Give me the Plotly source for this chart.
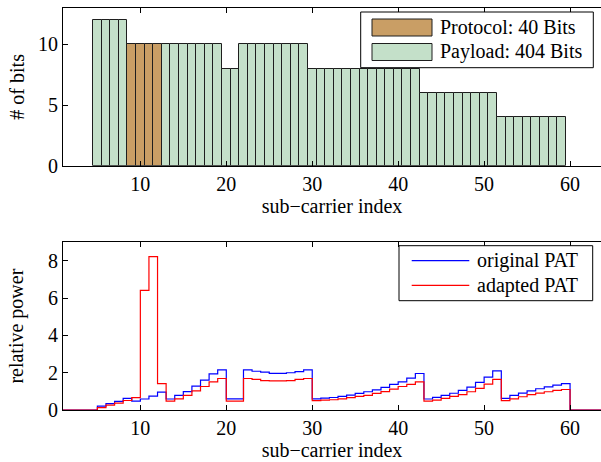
import plotly.graph_objects as go

# ---------------- data ----------------
subcarriers = list(range(5, 60))
bits = [12, 12, 12, 12, 10, 10, 10, 10, 10, 10, 10, 10, 10, 10, 10, 8, 8,
        10, 10, 10, 10, 10, 10, 10, 10, 8, 8, 8, 8, 8, 8, 8, 8, 8, 8, 8, 8, 8,
        6, 6, 6, 6, 6, 6, 6, 6, 6, 4, 4, 4, 4, 4, 4, 4, 4]
protocol_carriers = [9, 10, 11, 12]

original_pat = [0.21, 0.34, 0.46, 0.62, 0.48, 0.59, 0.75, 0.96, 0.59, 0.78,
                0.99, 1.28, 1.60, 1.94, 2.15, 0.60, 0.60, 2.15, 2.08, 2.03,
                1.97, 1.97, 2.00, 2.06, 2.15, 0.60, 0.64, 0.67, 0.73, 0.80,
                0.89, 0.98, 1.08, 1.21, 1.37, 1.51, 1.71, 1.96, 0.59, 0.68,
                0.78, 0.90, 1.05, 1.23, 1.48, 1.76, 2.10, 0.62, 0.78, 0.91,
                1.03, 1.14, 1.24, 1.33, 1.42]
adapted_pat = [0.13, 0.26, 0.37, 0.51, 0.66, 6.42, 8.23, 1.42, 0.48, 0.60,
               0.78, 1.03, 1.26, 1.51, 1.69, 0.48, 0.48, 1.69, 1.64, 1.58,
               1.56, 1.56, 1.58, 1.64, 1.69, 0.50, 0.53, 0.55, 0.60, 0.66,
               0.73, 0.78, 0.89, 0.99, 1.12, 1.26, 1.37, 1.51, 0.48, 0.53,
               0.62, 0.73, 0.83, 0.98, 1.16, 1.39, 1.64, 0.50, 0.60, 0.71,
               0.82, 0.91, 0.98, 1.05, 1.10]
lead_unused = [1, 2, 3, 4]
tail_unused = [60, 61, 62, 63, 64]

x_ticks = [10, 20, 30, 40, 50, 60]
bits_ticks = [0, 5, 10]
power_ticks = [0, 2, 4, 6, 8]

legend_bits = ["Protocol: 40 Bits", "Payload: 404 Bits"]
legend_power = ["original PAT", "adapted PAT"]

# ---------------- style ----------------
FONT = "Liberation Serif"
FS = 20
W, H = 601, 462
L, R, T, B = 63, 0, 8, 52
COL_PROTO = "rgb(201,158,101)"
COL_PAY = "rgb(196,224,201)"
EDGE = "rgb(30,30,30)"


def pxx(p):
    return (p - L) / (W - L - R)


def pxy(p):
    return (H - B - p) / (H - T - B)


proto_x = [c for c in subcarriers if c in protocol_carriers]
proto_y = [b for c, b in zip(subcarriers, bits) if c in protocol_carriers]
pay_x = [c for c in subcarriers if c not in protocol_carriers]
pay_y = [b for c, b in zip(subcarriers, bits) if c not in protocol_carriers]

stair_x = lead_unused + subcarriers + tail_unused
orig_y = [0] * len(lead_unused) + original_pat + [0] * len(tail_unused)
adap_y = [0] * len(lead_unused) + adapted_pat + [0] * len(tail_unused)

fig = go.Figure()
fig.add_trace(go.Bar(x=pay_x, y=pay_y, width=1, marker=dict(color=COL_PAY, line=dict(color=EDGE, width=1)),
                     xaxis="x", yaxis="y", showlegend=False))
fig.add_trace(go.Bar(x=proto_x, y=proto_y, width=1, marker=dict(color=COL_PROTO, line=dict(color=EDGE, width=1)),
                     xaxis="x", yaxis="y", showlegend=False))
fig.add_trace(go.Scatter(x=stair_x, y=orig_y, mode="lines", line=dict(color="#0000ff", width=1.2, shape="hv"),
                         xaxis="x2", yaxis="y2", showlegend=False))
fig.add_trace(go.Scatter(x=stair_x, y=adap_y, mode="lines", line=dict(color="#ff0000", width=1.2, shape="hv"),
                         xaxis="x2", yaxis="y2", showlegend=False))

tick_common = dict(ticks="inside", ticklen=5, tickcolor="black", tickwidth=1, showgrid=False, zeroline=False,
                   tickfont=dict(family=FONT, size=FS, color="black"))
xaxis_common = dict(tick_common, showline=True, linecolor="black", linewidth=1, mirror="ticks")
yaxis_common = dict(tick_common, showline=True, linecolor="black", linewidth=1, mirror=False)
right_common = dict(tick_common, showline=False, showticklabels=False, side="right")

top_dom = [(410 - 165.7) / 402, 1.0]
bot_dom = [0, (410 - 242.3) / 402]

fig.update_layout(
    width=W, height=H, margin=dict(l=L, r=R, t=T, b=B),
    paper_bgcolor="white", plot_bgcolor="white",
    font=dict(family=FONT, size=FS, color="black"),
    bargap=0, barmode="overlay",
    xaxis=dict(xaxis_common, range=[1, 63.6], tickvals=x_ticks, anchor="y",
               title=dict(text="sub\u2212carrier index", font=dict(family=FONT, size=FS), standoff=5)),
    yaxis=dict(yaxis_common, range=[0, 13], tickvals=bits_ticks, domain=top_dom, anchor="x",
               title=dict(text="# of bits", font=dict(family=FONT, size=FS), standoff=7)),
    yaxis3=dict(right_common, range=[0, 13], tickvals=bits_ticks, overlaying="y", anchor="x"),
    xaxis2=dict(xaxis_common, range=[1, 63.6], tickvals=x_ticks, anchor="y2",
                title=dict(text="sub\u2212carrier index", font=dict(family=FONT, size=FS), standoff=2)),
    yaxis2=dict(yaxis_common, range=[0, 9], tickvals=power_ticks, domain=bot_dom, anchor="x2",
                title=dict(text="relative power", font=dict(family=FONT, size=FS), standoff=18)),
    yaxis4=dict(right_common, range=[0, 9], tickvals=power_ticks, overlaying="y2", anchor="x2"),
)

shapes = []
annotations = []
# legend 1 (bits)
shapes.append(dict(type="rect", xref="paper", yref="paper", x0=pxx(360.7), x1=pxx(593.3), y0=pxy(67.7), y1=pxy(12),
                   fillcolor="white", line=dict(color="black", width=1)))
for i, (lab, col) in enumerate(zip(legend_bits, [COL_PROTO, COL_PAY])):
    yc = 27.5 + i * 24.5
    shapes.append(dict(type="rect", xref="paper", yref="paper", x0=pxx(372), x1=pxx(432),
                       y0=pxy(yc + 8.5), y1=pxy(yc - 8.5), fillcolor=col, line=dict(color=EDGE, width=1)))
    annotations.append(dict(text=lab, xref="paper", yref="paper", x=pxx(438), y=pxy(yc), xanchor="left",
                            yanchor="middle", showarrow=False, font=dict(family=FONT, size=FS, color="black")))
# legend 2 (power)
shapes.append(dict(type="rect", xref="paper", yref="paper", x0=pxx(399), x1=pxx(592.7), y0=pxy(300.7), y1=pxy(245.7),
                   fillcolor="white", line=dict(color="black", width=1)))
for i, (lab, col) in enumerate(zip(legend_power, ["#0000ff", "#ff0000"])):
    yc = 260.7 + i * 24.6
    shapes.append(dict(type="line", xref="paper", yref="paper", x0=pxx(411.7), x1=pxx(469.3),
                       y0=pxy(yc), y1=pxy(yc), line=dict(color=col, width=1.2)))
    annotations.append(dict(text=lab, xref="paper", yref="paper", x=pxx(475), y=pxy(yc), xanchor="left",
                            yanchor="middle", showarrow=False, font=dict(family=FONT, size=FS, color="black")))

fig.update_layout(shapes=shapes, annotations=annotations)
fig.write_html("out.html")
